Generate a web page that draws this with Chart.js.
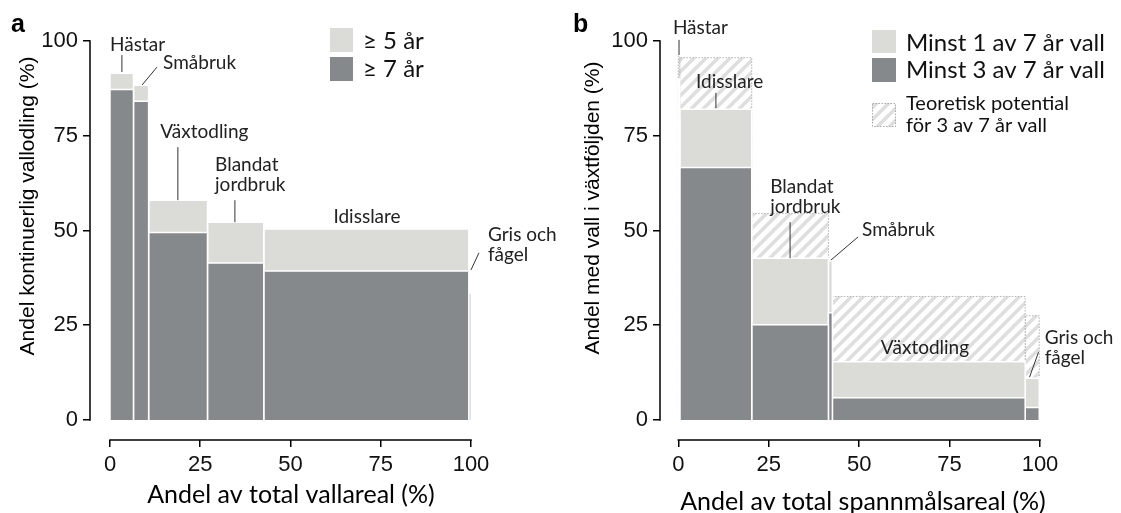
<!DOCTYPE html>
<html>
<head>
<meta charset="utf-8">
<script src="https://cdn.jsdelivr.net/npm/chart.js@4.4.1/dist/chart.umd.min.js"></script>
<style>
  body { margin: 0; background: #fff; }
  #wrap { position: relative; width: 1121px; height: 513px; }
  canvas { position: absolute; top: 0; }
</style>
</head>
<body>
<div id="wrap">
  <canvas id="chartA" width="560" height="513" style="left:0"></canvas>
  <canvas id="chartB" width="561" height="513" style="left:560px"></canvas>
</div>
<script>
// panel a: share of ley area (x) and continuous ley growing (y)
const catsA = ['Hästar', 'Småbruk', 'Växtodling', 'Blandat jordbruk', 'Idisslare', 'Gris och fågel'];
const startA = [0, 6.5, 10.7, 27.0, 42.6, 99.4];
const endA = [6.5, 10.7, 27.0, 42.6, 99.4, 100];
const fiveYearsA = [91.5, 88.3, 58.0, 52.2, 50.4, 33.5];
const sevenYearsA = [87.2, 84.1, 49.5, 41.4, 39.3, 33.5];

// panel b: share of cereal area (x) and ley in the crop rotation (y)
const catsB = ['Hästar', 'Idisslare', 'Blandat jordbruk', 'Småbruk', 'Växtodling', 'Gris och fågel'];
const startB = [0, 0.4, 20.3, 41.5, 42.6, 95.9];
const endB = [0.4, 20.3, 41.5, 42.6, 95.9, 99.8];
const oneOfSevenB = [90, 82.0, 42.7, 42.0, 15.4, 11.0];
const threeOfSevenB = [80, 66.6, 25.1, 28.3, 5.9, 3.3];
const potentialB = [96, 95.6, 54.5, 42.0, 32.6, 27.5];

const axisTicks = [0, 25, 50, 75, 100];

const lightGrey = '#dbdcd8';
const darkGrey = '#86898c';
const labelFont = 'Lato, "Open Sans", sans-serif';
const tickFont = '"Liberation Sans", Arial, sans-serif';

function hatch(canvasId) {
  const tile = document.createElement('canvas');
  tile.width = tile.height = 12;
  const g = tile.getContext('2d');
  g.fillStyle = '#fff';
  g.fillRect(0, 0, 12, 12);
  g.strokeStyle = '#dedede';
  g.lineWidth = 3.5;
  g.beginPath();
  g.moveTo(0, 12); g.lineTo(12, 0);
  g.moveTo(-6, 6); g.lineTo(6, -6);
  g.moveTo(6, 18); g.lineTo(18, 6);
  g.stroke();
  return document.getElementById(canvasId).getContext('2d').createPattern(tile, 'repeat');
}

// a bar of width (x1 - x0) drawn as a filled outline on the linear scales
function rectData(x0, x1, h) {
  return [{ x: x0, y: 0 }, { x: x0, y: h }, { x: x1, y: h }, { x: x1, y: 0 }];
}

function boxes(label, starts, ends, values, style, order) {
  return values.map((v, i) => Object.assign({
    label: label + ' – ' + i,
    data: rectData(starts[i], ends[i], v),
    fill: 'origin',
    pointRadius: 0,
    tension: 0,
    order: order
  }, style));
}

const notesPlugin = {
  id: 'notes',
  afterDraw(chart, args, opts) {
    const ctx = chart.ctx;
    const xs = chart.scales.x, ys = chart.scales.y;
    const area = chart.chartArea;
    ctx.save();

    // axis lines only from 0 to 100, like base R
    ctx.strokeStyle = '#000';
    ctx.lineWidth = 1.5;
    ctx.lineCap = 'square';
    ctx.beginPath();
    ctx.moveTo(area.left, ys.getPixelForValue(0));
    ctx.lineTo(area.left, ys.getPixelForValue(100));
    ctx.moveTo(xs.getPixelForValue(0), area.bottom);
    ctx.lineTo(xs.getPixelForValue(100), area.bottom);
    ctx.stroke();

    // category labels with leader lines
    ctx.lineCap = 'butt';
    ctx.lineWidth = 1;
    ctx.strokeStyle = '#333';
    ctx.fillStyle = '#222';
    ctx.font = '19px ' + labelFont;
    ctx.textBaseline = 'middle';
    opts.labels.forEach(n => {
      ctx.textAlign = n.align || 'left';
      n.lines.forEach((t, k) => {
        ctx.fillText(t, xs.getPixelForValue(n.x), ys.getPixelForValue(n.y) + k * 20);
      });
      if (n.leader) {
        ctx.beginPath();
        ctx.moveTo(xs.getPixelForValue(n.leader[0]), ys.getPixelForValue(n.leader[1]));
        ctx.lineTo(xs.getPixelForValue(n.leader[2]), ys.getPixelForValue(n.leader[3]));
        ctx.stroke();
      }
    });

    // legend
    ctx.textAlign = 'left';
    opts.legend.forEach(item => {
      ctx.fillStyle = item.color;
      ctx.fillRect(item.box[0], item.box[1], item.box[2], item.box[3]);
      if (item.dotted) {
        ctx.strokeStyle = '#aaa';
        ctx.setLineDash([1.5, 1.5]);
        ctx.strokeRect(item.box[0] + 0.5, item.box[1] + 0.5, item.box[2] - 1, item.box[3] - 1);
        ctx.setLineDash([]);
      }
      ctx.fillStyle = '#111';
      ctx.font = item.size + 'px ' + labelFont;
      item.text.forEach((t, k) => {
        ctx.fillText(t, item.box[0] + item.box[2] + 10, item.ty + k * 22);
      });
    });

    // panel letter
    ctx.fillStyle = '#000';
    ctx.font = 'bold 25px ' + tickFont;
    ctx.textBaseline = 'alphabetic';
    ctx.fillText(opts.letter, opts.letterX, 32);

    // axis titles
    ctx.textAlign = 'center';
    ctx.textBaseline = 'middle';
    ctx.font = '21px ' + tickFont;
    ctx.save();
    ctx.translate(opts.yTitleX, opts.yTitleY);
    ctx.rotate(-Math.PI / 2);
    ctx.fillText(opts.yTitle, 0, 0);
    ctx.restore();
    ctx.font = opts.xTitleSize + 'px ' + labelFont;
    ctx.fillText(opts.xTitle, opts.xTitleX, opts.xTitleY);
    ctx.restore();
  }
};

function scales(xmin, yWidth) {
  const tickStyle = { color: '#111', font: { family: tickFont, size: 22 }, padding: 5 };
  const grid = { display: true, drawOnChartArea: false, drawTicks: true, tickLength: 7, color: '#000', lineWidth: 1.5 };
  return {
    x: {
      type: 'linear', min: xmin, max: 100,
      afterBuildTicks: s => { s.ticks = axisTicks.map(v => ({ value: v })); },
      afterFit: s => { s.height = 73; },
      ticks: tickStyle, grid: grid, border: { display: false }
    },
    y: {
      type: 'linear', min: -5.28, max: 100,
      afterBuildTicks: s => { s.ticks = axisTicks.map(v => ({ value: v })); },
      afterFit: s => { s.width = yWidth; },
      ticks: tickStyle, grid: grid, border: { display: false }
    }
  };
}

const whiteEdge = { borderColor: '#fff', borderWidth: 1.5 };

new Chart(document.getElementById('chartA'), {
  type: 'line',
  data: {
    datasets: [
      ...boxes('≥ 7 år', startA, endA, sevenYearsA, Object.assign({ backgroundColor: darkGrey }, whiteEdge), 0),
      ...boxes('≥ 5 år', startA, endA, fiveYearsA, Object.assign({ backgroundColor: lightGrey }, whiteEdge), 1)
    ]
  },
  options: {
    responsive: false,
    animation: false,
    layout: { padding: { top: 41, right: 89, bottom: 0, left: 0 } },
    scales: scales(-5.54, 90),
    plugins: {
      legend: { display: false },
      tooltip: { enabled: false },
      notes: {
        letter: 'a', letterX: 11,
        yTitle: 'Andel kontinuerlig vallodling (%)', yTitleX: 28, yTitleY: 206,
        xTitle: 'Andel av total vallareal (%)', xTitleX: 291, xTitleY: 495, xTitleSize: 25,
        labels: [
          { lines: [catsA[0]], x: 0, y: 98.9, leader: [3.3, 96.3, 3.3, 91.8] },
          { lines: [catsA[1]], x: 14.7, y: 94.2, leader: [13.0, 93.1, 8.9, 88.4] },
          { lines: [catsA[2]], x: 13.9, y: 76, leader: [18.8, 72, 18.8, 58] },
          { lines: ['Blandat', 'jordbruk'], x: 29.1, y: 67.3, leader: [34.6, 58, 34.6, 52.2] },
          { lines: [catsA[4]], x: 71.2, y: 53.6, align: 'center' },
          { lines: ['Gris och', 'fågel'], x: 104.7, y: 48.8, leader: [102.2, 44.1, 100, 39.6] }
        ],
        legend: [
          { box: [330, 28, 23, 24], color: lightGrey, text: ['≥ 5 år'], ty: 41, size: 24 },
          { box: [330, 57, 23, 24], color: darkGrey, text: ['≥ 7 år'], ty: 69, size: 24 }
        ]
      }
    }
  },
  plugins: [notesPlugin]
});

const hatchB = hatch('chartB');

new Chart(document.getElementById('chartB'), {
  type: 'line',
  data: {
    datasets: [
      ...boxes('Minst 3 av 7 år vall', startB, endB, threeOfSevenB, Object.assign({ backgroundColor: darkGrey }, whiteEdge), 0),
      ...boxes('Minst 1 av 7 år vall', startB, endB, oneOfSevenB, Object.assign({ backgroundColor: lightGrey }, whiteEdge), 1),
      ...boxes('Teoretisk potential för 3 av 7 år vall', startB, endB, potentialB,
        { backgroundColor: hatchB, borderColor: '#b0b0b0', borderWidth: 1, borderDash: [1.5, 1.5] }, 2)
    ]
  },
  options: {
    responsive: false,
    animation: false,
    layout: { padding: { top: 41, right: 81, bottom: 0, left: 0 } },
    scales: scales(-5.06, 100),
    plugins: {
      legend: { display: false },
      tooltip: { enabled: false },
      notes: {
        letter: 'b', letterX: 13,
        yTitle: 'Andel med vall i växtföljden (%)', yTitleX: 33, yTitleY: 208,
        xTitle: 'Andel av total spannmålsareal (%)', xTitleX: 303, xTitleY: 502, xTitleSize: 25,
        labels: [
          { lines: [catsB[0]], x: -1.5, y: 103.4, leader: [0.2, 100.3, 0.2, 96.3] },
          { lines: [catsB[1]], x: 4.9, y: 89.2, leader: [10.4, 86.3, 10.4, 82.3] },
          { lines: ['Blandat', 'jordbruk'], x: 25.4, y: 61.5, leader: [30.9, 52.2, 30.9, 42.7] },
          { lines: [catsB[3]], x: 50.8, y: 50.1, leader: [49.7, 48.3, 42.2, 42.2] },
          { lines: [catsB[4]], x: 68.2, y: 19, align: 'center' },
          { lines: ['Gris och', 'fågel'], x: 101.3, y: 21.6, leader: [99.6, 17.9, 97.1, 11.3] }
        ],
        legend: [
          { box: [312, 30, 24, 23], color: lightGrey, text: ['Minst 1 av 7 år vall'], ty: 43, size: 24 },
          { box: [312, 58, 24, 24], color: darkGrey, text: ['Minst 3 av 7 år vall'], ty: 70, size: 24 },
          { box: [312, 103, 24, 24], color: hatchB, dotted: true, text: ['Teoretisk potential', 'för 3 av 7 år vall'], ty: 104, size: 20 }
        ]
      }
    }
  },
  plugins: [notesPlugin]
});
</script>
</body>
</html>
